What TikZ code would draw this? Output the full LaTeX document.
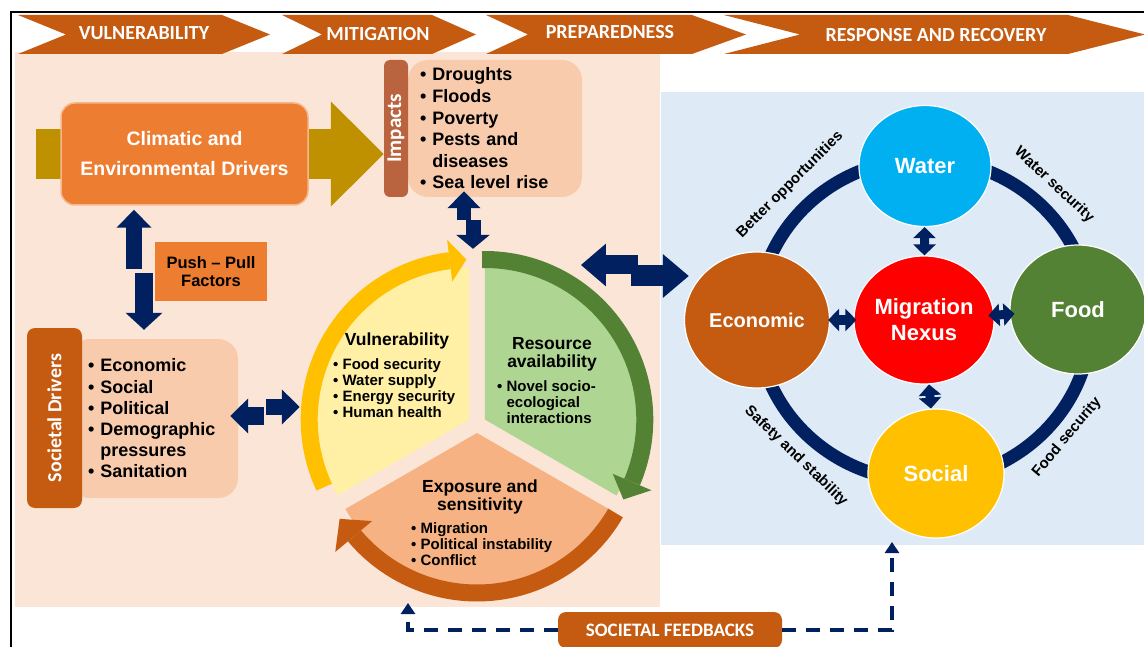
\documentclass[tikz,border=0pt]{standalone}
\usepackage{fontspec}
\setmainfont{Liberation Sans}
\newfontfamily\capfont{Carlito}
\usetikzlibrary{shapes,arrows.meta,calc}

\pgfdeclarelayer{bg}
\pgfdeclarelayer{behind}
\pgfsetlayers{bg,behind,main}

\definecolor{banner}{RGB}{197,90,17}
\definecolor{peach}{RGB}{251,229,214}
\definecolor{paleblue}{RGB}{222,235,247}
\definecolor{drvorange}{RGB}{237,125,49}
\definecolor{gold}{RGB}{191,144,0}
\definecolor{pink}{RGB}{248,203,173}
\definecolor{impbrown}{RGB}{185,100,62}
\definecolor{navy}{RGB}{0,32,96}
\definecolor{ringyellow}{RGB}{255,192,0}
\definecolor{secyellow}{RGB}{255,240,165}
\definecolor{ringgreen}{RGB}{84,130,53}
\definecolor{secgreen}{RGB}{174,214,146}
\definecolor{ringorange}{RGB}{197,90,17}
\definecolor{secorange}{RGB}{246,178,130}
\definecolor{water}{RGB}{0,176,240}

\begin{document}
\begin{tikzpicture}[x=1pt,y=1pt,
        phase/.style={text=white,font=\capfont\bfseries\fontsize{20}{20}\selectfont},
        drvbox/.style={fill=drvorange,draw=drvorange!55!white,line width=1.5pt,rounded corners=14pt,
            minimum width=247pt,minimum height=102pt,text=white,align=center,
            font=\bfseries\fontsize{19.5}{30}\selectfont},
        pinkbox/.style={fill=pink,rounded corners=20pt,align=left,inner ysep=0pt,
            font=\bfseries\fontsize{18}{21.6}\selectfont},
        sidebar/.style={fill=banner,rounded corners=8pt,text=white,inner sep=0pt,
            font=\capfont\bfseries\fontsize{20}{20}\selectfont},
        pushbox/.style={fill=drvorange,minimum width=112pt,minimum height=59pt,align=center,
            font=\bfseries\fontsize{16.5}{17.5}\selectfont},
        wheelhead/.style={align=center,inner sep=0pt,font=\bfseries\fontsize{17.5}{18}\selectfont},
        wheellist/.style={align=left,inner sep=0pt,anchor=west,font=\bfseries\fontsize{15}{16}\selectfont},
        wheelring/.style={draw=#1,line width=17pt},
        nexusnode/.style={ellipse,draw=white,line width=1.2pt,inner sep=0pt,text=white,align=center,
            font=\bfseries\fontsize{22}{26}\selectfont},
        ringlabel/.style={inner sep=0pt,font=\bfseries\fontsize{15}{15}\selectfont},
        blockarrow/.style n args={3}{draw=navy,line width=#1,-{Triangle[length=#2,width=#3]}},
        linkarrow/.style={draw=navy,line width=9pt,{Triangle[length=11pt,width=22pt]}-{Triangle[length=11pt,width=22pt]}},
        feedback/.style={draw=navy,line width=3.5pt,dash pattern=on 14pt off 10pt,-{Triangle[length=11pt,width=14pt]}},
        fbbox/.style={fill=banner,rounded corners=8pt,minimum width=224pt,minimum height=36pt,text=white,
            font=\capfont\bfseries\fontsize{19}{19}\selectfont}
        ]
        \useasboundingbox (0,0) rectangle (1144,-647);

        \begin{pgfonlayer}{bg}
            \fill[white] (0,0) rectangle (1144,-647);
            \fill[peach] (15,-52) rectangle (660,-607);
            \fill[paleblue] (661,-92) rectangle (1144,-545);
        \end{pgfonlayer}

        \draw[line width=2pt] (11,-12) rectangle (1170,-670);

        \foreach \xl/\xn/\xb/\xt in {18/66/222/270,282/322/432/476,486/528/692/746,724/800/1068/1145}
            \fill[banner] (\xl,-15) -- (\xb,-15) -- (\xt,-34.5) -- (\xb,-54) -- (\xl,-54) -- (\xn,-34.5) -- cycle;

        \node[phase] (ph1) at (144,-33) {VULNERABILITY};
        \node[phase] (ph2) at (378,-34) {MITIGATION};
        \node[phase] (ph3) at (610,-32) {PREPAREDNESS};
        \node[phase] (ph4) at (936,-35) {RESPONSE AND RECOVERY};

        \node[drvbox] (clim) at (184.5,-154) {Climatic and\\Environmental Drivers};
        \node[pinkbox,text width=150pt,inner xsep=12pt,minimum height=137pt] (imp) at (495,-128.5)
            {• Droughts\\• Floods\\• Poverty\\• Pests and\\\phantom{• }diseases\\• Sea level rise};
        \node[sidebar,fill=impbrown,rounded corners=6pt,minimum width=137pt,minimum height=24pt,rotate=90,
            font=\capfont\bfseries\fontsize{21}{21}\selectfont] (impbar) at (396,-128.5) {Impacts};

        \node[pushbox] (push) at (211,-271.5) {Push – Pull\\Factors};

        \node[pinkbox,text width=132pt,inner xsep=18pt,minimum height=159pt,font=\bfseries\fontsize{18}{21.2}\selectfont]
            (soc) at (154,-418.5)
            {• Economic\\• Social\\• Political\\• Demographic\\\phantom{• }pressures\\• Sanitation};
        \node[sidebar,minimum width=180pt,minimum height=55pt,rotate=90] (socbar) at (54.5,-418) {Societal Drivers};

        \node[circle,minimum size=340pt,inner sep=0pt] (wheel) at (477,-424) {};
        \coordinate (cy) at ($(wheel.center)+(150:9)$);
        \coordinate (cg) at ($(wheel.center)+(30:9)$);
        \coordinate (co) at ($(wheel.center)+(270:9)$);

        \fill[secyellow] (cy) -- ++(90:152) arc[start angle=90,end angle=210,radius=152] -- cycle;
        \fill[secgreen] (cg) -- ++(-30:152) arc[start angle=-30,end angle=90,radius=152] -- cycle;
        \fill[secorange] (co) -- ++(210:152) arc[start angle=210,end angle=330,radius=152] -- cycle;

        \draw[wheelring=ringyellow] (cy) ++(205:160) arc[start angle=205,end angle=97,radius=160];
        \fill[ringyellow] ($(cy)+(97:139)$) -- ($(cy)+(97:181)$) -- ($(cy)+(91:160)$) -- cycle;
        \draw[wheelring=ringgreen] (cg) ++(91:160) arc[start angle=91,end angle=-23,radius=160];
        \fill[ringgreen] ($(cg)+(-23:139)$) -- ($(cg)+(-23:181)$) -- ($(cg)+(-30:160)$) -- cycle;
        \draw[wheelring=ringorange] (co) ++(-30:160) arc[start angle=-30,end angle=-140,radius=160];
        \fill[ringorange] ($(co)+(-140:137)$) -- ($(co)+(-140:185)$) -- ($(co)+(-148:162)$) -- cycle;

        \node[wheelhead] (vulh) at (397,-341) {Vulnerability};
        \node[wheellist] (vull) at (333,-388) {• Food security\\• Water supply\\• Energy security\\• Human health};
        \node[wheelhead] (resh) at (552,-354) {Resource\\availability};
        \node[wheellist] (resl) at (497,-402) {• Novel socio-\\\phantom{• }ecological\\\phantom{• }interactions};
        \node[wheelhead] (exph) at (480,-497) {Exposure and\\sensitivity};
        \node[wheellist] (expl) at (411,-544) {• Migration\\• Political instability\\• Conflict};

        \node[nexusnode,fill=water,minimum width=132pt,minimum height=121pt] (water) at (925,-166) {Water};
        \node[nexusnode,fill=red,minimum width=134pt,minimum height=128pt] (nexus) at (924,-320) {Migration\\Nexus};
        \node[nexusnode,fill=banner,minimum width=145pt,minimum height=136pt,
            font=\bfseries\fontsize{20}{24}\selectfont] (econ) at (757,-320) {Economic};
        \node[nexusnode,fill=ringgreen,minimum width=136pt,minimum height=129pt] (food) at (1078,-309.5) {Food};
        \node[nexusnode,fill=ringyellow,minimum width=136pt,minimum height=129pt] (social) at (936,-473.5) {Social};

        \node[ringlabel,rotate=45] (opp) at (790,-185) {Better opportunities};
        \node[ringlabel,rotate=-43] (wsec) at (1054,-185) {Water security};
        \node[ringlabel,rotate=-44] (safe) at (796,-456) {Safety and stability};
        \node[ringlabel,rotate=50] (fsec) at (1067,-437) {Food security};

        \node[fbbox] (fb) at (670,-630) {SOCIETAL FEEDBACKS};
        \coordinate (fbwheel) at (408,-603);
        \coordinate (fbsocial) at (892,-542);

        \begin{pgfonlayer}{behind}
            \draw[gold,line width=50pt,-{Triangle[length=53pt,width=102pt]}]
                ([xshift=-24]clim.west) -- (clim.west -| impbar.north);
            \draw[navy,line width=13pt] (nexus.center) ellipse [x radius=167,y radius=161];
        \end{pgfonlayer}

        \draw[blockarrow={16pt}{18pt}{34pt}] ([shift={(-50.5,-63)}]clim.south) -- ([shift={(-50.5,-4)}]clim.south);
        \draw[blockarrow={18pt}{17pt}{36pt}] ([shift={(-10,66)}]soc.north) -- ([shift={(-10,9)}]soc.north);
        \draw[blockarrow={14pt}{17pt}{32pt}] ([shift={(-31,-23)}]imp.south) -- ([shift={(-31,6)}]imp.south);
        \draw[blockarrow={15pt}{14pt}{33pt}] ([shift={(-4,34)}]wheel.north) -- ([shift={(-4,5)}]wheel.north);
        \draw[blockarrow={18pt}{18pt}{34pt}] ([shift={(26,2.5)}]soc.east) -- ([shift={(-8,2.5)}]soc.east);
        \draw[blockarrow={16pt}{18pt}{34pt}] ([shift={(28,11.5)}]soc.east) -- ([shift={(-7,17)}]wheel.west);
        \draw[blockarrow={19pt}{25pt}{41pt}] ([shift={(-46,55)}]econ.west) -- ([shift={(-103,55)}]econ.west);
        \draw[blockarrow={21pt}{26pt}{42pt}] ([shift={(-53,44)}]econ.west) -- ([shift={(5,44)}]econ.west);

        \draw[linkarrow] (water) -- (nexus);
        \draw[linkarrow] (nexus) -- (social);
        \draw[linkarrow,shorten <=-2pt,shorten >=-3pt] (econ) -- (nexus);
        \draw[linkarrow,shorten <=-6pt,shorten >=-5pt] (nexus) -- (food);

        \draw[feedback] (fb.west) -| (fbwheel);
        \draw[feedback] (fb.east) -| (fbsocial);

    \end{tikzpicture}
\end{document}
